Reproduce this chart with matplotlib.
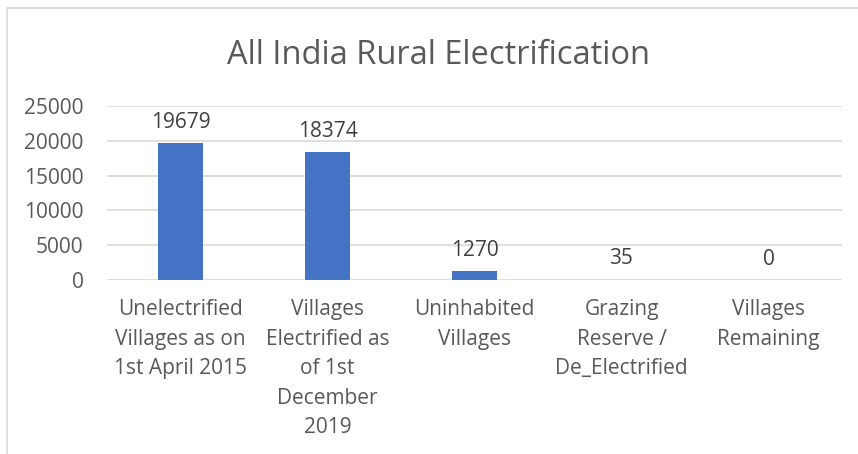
import matplotlib.pyplot as plt
from matplotlib.lines import Line2D

# data
categories = ['Unelectrified\nVillages as on\n1st April 2015',
              'Villages\nElectrified as\nof 1st\nDecember\n2019',
              'Uninhabited\nVillages',
              'Grazing\nReserve /\nDe_Electrified',
              'Villages\nRemaining']
values = [19679, 18374, 1270, 35, 0]
yticks = [0, 5000, 10000, 15000, 20000, 25000]

plt.rcParams['font.family'] = ['Open Sans', 'DejaVu Sans']
grey = '#595959'

fig = plt.figure(figsize=(8.58, 4.54), dpi=100)
ax = fig.add_axes([107/858, 1 - 280/454, 735/858, 174/454])

x = range(len(categories))
bars = ax.bar(x, values, width=0.31, color='#4472C4', zorder=3)
for xi, v in zip(x, values):
    ax.annotate(str(v), (xi, v), xytext=(0, 7.5), textcoords='offset points',
                ha='center', va='bottom', fontsize=15, color='#404040')

ax.set_xlim(-0.5, len(categories) - 0.5)
ax.set_ylim(0, 25000)
ax.set_yticks(yticks)
ax.set_yticklabels([str(t) for t in yticks], fontsize=15, color=grey)
ax.set_xticks(list(x))
ax.set_xticklabels(categories, fontsize=15, color=grey, linespacing=1.53)
ax.tick_params(length=0)
ax.tick_params(axis='x', pad=14)
ax.tick_params(axis='y', pad=17)
ax.grid(axis='y', color='#d9d9d9', linewidth=1.2, zorder=0)
for s in ax.spines.values():
    s.set_visible(False)

fig.text(438/858, 1 - 56/454, 'All India Rural Electrification', ha='center',
         va='center', fontsize=23.5, color=grey)

# chart border (left and top edges visible)
fig.add_artist(Line2D([7/858, 7/858], [0, 1 - 8/454], color='#d9d9d9', lw=1.2))
fig.add_artist(Line2D([7/858, 1], [1 - 8/454, 1 - 8/454], color='#d9d9d9', lw=1.2))

plt.savefig('out.png', dpi=100)
